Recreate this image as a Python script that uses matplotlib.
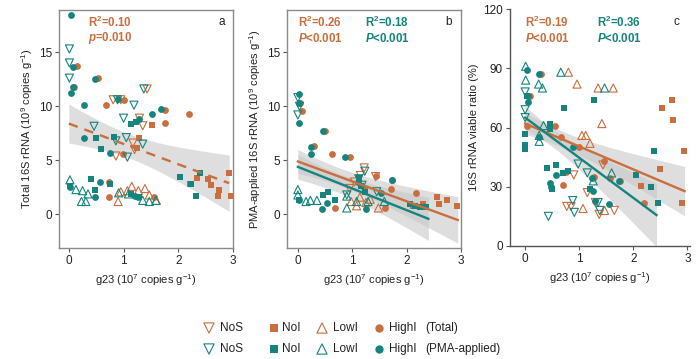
import numpy as np
import matplotlib
matplotlib.use("Agg")
import matplotlib.pyplot as plt

plt.rcParams['font.family'] = ['Liberation Sans', 'DejaVu Sans']
plt.rcParams['mathtext.fontset'] = 'custom'
plt.rcParams['mathtext.rm'] = 'Liberation Sans'
plt.rcParams['mathtext.it'] = 'Liberation Sans:italic:bold'
plt.rcParams['mathtext.bf'] = 'Liberation Sans:bold'
plt.rcParams['mathtext.default'] = 'regular'

ORANGE = '#C96E3E'
TEAL = '#15847E'

groups = ['NoS', 'NoI', 'LowI', 'HighI']

# ---------------- Panel a: Total 16S rRNA ----------------
a_tot_NoS_x = [1.43, 0.81, 0.95, 1.29, 1.35, 1.17, 0.86, 1.20]
a_tot_NoS_y = [11.6, 10.6, 10.6, 8.9, 8.2, 6.6, 5.4, 6.0]
a_tot_NoI_x = [1.52, 1.29, 1.24, 2.21, 2.34, 2.54, 2.59, 2.75, 2.73, 2.93, 2.96]
a_tot_NoI_y = [8.3, 7.1, 6.1, 2.8, 3.4, 3.3, 2.7, 2.3, 1.7, 3.8, 1.7]
a_tot_LowI_x = [0.90, 1.07, 1.15, 1.27, 1.39, 1.60, 1.47, 0.95]
a_tot_LowI_y = [1.2, 2.2, 2.6, 2.2, 2.4, 1.3, 1.8, 2.1]
a_tot_HighI_x = [0.14, 0.09, 0.53, 0.67, 1.00, 1.76, 2.19, 1.75, 0.74, 0.74, 0.99, 1.55]
a_tot_HighI_y = [13.7, 11.8, 12.6, 10.1, 10.6, 9.7, 9.3, 8.5, 3.0, 1.6, 5.6, 1.6]

a_pma_NoS_x = [0.01, 0.01, 0.01, 0.46, 0.89, 0.86, 1.00, 1.07, 1.19, 1.37, 1.35, 1.05]
a_pma_NoS_y = [15.3, 14.0, 12.6, 8.15, 10.6, 6.8, 8.9, 5.3, 10.1, 11.6, 6.5, 7.1]
a_pma_NoI_x = [0.02, 0.49, 0.58, 0.83, 0.41, 0.47, 0.75, 1.13, 1.22, 2.03, 2.24, 2.39, 2.32, 1.13, 1.29]
a_pma_NoI_y = [2.6, 7.07, 6.08, 7.16, 3.24, 2.3, 2.8, 8.33, 8.55, 3.45, 2.8, 3.8, 1.7, 1.9, 1.6]
a_pma_LowI_x = [0.02, 0.25, 0.31, 0.23, 0.13, 0.35, 0.91, 1.09, 1.35, 1.47, 1.59]
a_pma_LowI_y = [3.2, 2.2, 1.2, 1.2, 2.3, 1.9, 2.0, 1.9, 1.3, 1.2, 1.3]
a_pma_HighI_x = [0.04, 0.08, 0.07, 0.04, 0.28, 0.27, 0.48, 0.57, 0.47, 0.76, 0.89, 1.29, 1.52, 1.69, 1.27, 1.21, 0.02]
a_pma_HighI_y = [18.4, 13.6, 11.8, 11.2, 10.1, 7.07, 12.56, 2.99, 1.6, 5.68, 10.65, 8.86, 9.32, 9.72, 1.66, 1.7, 2.5]

# ---------------- Panel b: PMA-applied 16S rRNA ----------------
b_tot_NoS_x = [1.22, 1.04, 1.15, 1.43, 0.95]
b_tot_NoS_y = [4.3, 3.0, 3.6, 3.5, 2.4]
b_tot_NoI_x = [2.56, 2.75, 2.60, 2.93, 2.12, 1.23, 2.30]
b_tot_NoI_y = [1.6, 1.3, 1.0, 0.8, 0.8, 2.4, 1.0]
b_tot_LowI_x = [1.14, 1.33, 1.48, 1.08, 0.98, 1.25]
b_tot_LowI_y = [1.6, 1.4, 0.6, 0.8, 1.2, 1.1]
b_tot_HighI_x = [0.03, 0.07, 0.29, 0.49, 0.62, 0.95, 1.44, 1.74, 1.72, 2.18, 0.69, 1.60]
b_tot_HighI_y = [10.3, 9.6, 6.3, 7.7, 5.6, 5.3, 3.6, 3.2, 2.4, 2.0, 0.6, 0.6]

b_pma_NoS_x = [0.0, 0.03, 0.0, 1.12, 1.18, 1.23, 0.90, 1.45]
b_pma_NoS_y = [10.8, 10.0, 9.2, 3.3, 2.7, 4.0, 1.8, 2.1]
b_pma_NoI_x = [0.02, 0.47, 0.56, 0.69, 1.12, 1.17, 1.23, 2.06, 2.25, 2.35, 2.15]
b_pma_NoI_y = [1.3, 1.8, 2.1, 1.3, 3.4, 2.6, 2.1, 1.0, 0.7, 0.7, 0.8]
b_pma_LowI_x = [0.0, 0.0, 0.23, 0.35, 0.15, 0.90, 1.08, 1.29, 1.59, 0.90]
b_pma_LowI_y = [2.3, 1.8, 1.3, 1.3, 1.2, 1.7, 1.2, 1.2, 1.2, 0.6]
b_pma_HighI_x = [0.02, 0.02, 0.02, 0.25, 0.25, 0.47, 0.86, 0.02, 0.44, 0.54, 1.73, 1.53, 1.26, 1.10]
b_pma_HighI_y = [10.3, 8.5, 11.1, 6.26, 5.55, 7.67, 5.3, 1.3, 0.47, 1.1, 3.2, 2.0, 0.5, 3.0]

# ---------------- Panel c: 16S rRNA viable ratio ----------------
c_tot_NoS_x = [0.90, 0.77, 0.85, 1.15, 1.30, 1.37, 1.65, 1.44]
c_tot_NoS_y = [36, 20, 20, 27, 22, 16, 18, 41]
c_tot_NoI_x = [2.54, 2.71, 2.74, 2.94, 2.90, 2.50, 2.15]
c_tot_NoI_y = [70, 74, 64, 48, 22, 39, 30.5]
c_tot_LowI_x = [0.80, 0.96, 1.35, 1.63, 1.42, 1.05, 1.12, 1.20, 1.07, 1.47]
c_tot_LowI_y = [88, 82, 80, 80, 62, 56, 56, 52, 19, 18]
c_tot_HighI_x = [0.29, 0.09, 0.03, 0.55, 0.67, 0.99, 0.70, 0.76, 1.45, 1.57, 1.76, 2.19, 1.28]
c_tot_HighI_y = [87, 76, 61, 61, 55, 50, 31, 37.5, 43, 34.5, 33, 22, 35]

c_pma_NoS_x = [0.0, 0.0, 0.0, 0.43, 0.88, 0.91, 0.98, 1.15, 1.35, 1.38]
c_pma_NoS_y = [69, 65, 78, 15, 23, 17, 41.5, 37, 22, 18]
c_pma_NoI_x = [0.0, 0.0, 0.0, 0.04, 0.46, 0.46, 0.41, 0.58, 0.50, 0.70, 0.79, 0.71, 1.27, 1.20, 2.06, 2.39, 2.33, 2.46]
c_pma_NoI_y = [56.7, 51, 49, 76, 62, 59, 39.5, 41, 29, 37, 38, 70, 74, 29, 36, 48, 30, 22]
c_pma_LowI_x = [0.01, 0.01, 0.25, 0.32, 0.26, 0.26, 0.34, 0.66, 1.47, 1.26, 1.60]
c_pma_LowI_y = [91, 84, 82, 80, 56, 53, 61, 88, 80, 33, 37]
c_pma_HighI_x = [0.03, 0.25, 0.06, 0.05, 0.26, 0.46, 0.48, 0.58, 0.89, 1.24, 1.26, 1.30, 1.55, 1.74]
c_pma_HighI_y = [89, 87, 76, 73, 55, 31.7, 30, 36, 50, 34.6, 28, 23, 21.5, 33]

# Regression fits:
# (intercept, slope, x_start, x_end, half-width at start, half-width at end, x of narrowest band)
a_fit_tot = (8.4, -1.88, 0.0, 2.93, 1.8, 2.6, 1.1)
b_fit_tot = (4.9, -1.84, 0.0, 2.94, 1.1, 2.15, 0.8)
b_fit_pma = (4.4, -2.0, 0.0, 2.40, 1.15, 2.0, 0.7)
c_fit_tot = (62.0, -11.6, 0.0, 2.95, 5.5, 12.5, 0.7)
c_fit_pma = (65.0, -20.3, 0.0, 2.43, 6.0, 16.0, 0.5)

a_stats = [("R$^2$=0.10", "$\\mathit{p}$=0.010", ORANGE)]
b_stats = [("R$^2$=0.26", "$\\mathit{P}$<0.001", ORANGE), ("R$^2$=0.18", "$\\mathit{P}$<0.001", TEAL)]
c_stats = [("R$^2$=0.19", "$\\mathit{P}$<0.001", ORANGE), ("R$^2$=0.36", "$\\mathit{P}$<0.001", TEAL)]

markers = {'NoS': 'v', 'NoI': 's', 'LowI': '^', 'HighI': 'o'}
sizes = {'NoS': 34, 'NoI': 20, 'LowI': 34, 'HighI': 24}
hollow = {'NoS': True, 'NoI': False, 'LowI': True, 'HighI': False}

fig = plt.figure(figsize=(7.0, 3.59), dpi=100)
W, H = 700.0, 359.0

def add_ax(l, r, t, b):
    return fig.add_axes([l / W, 1 - b / H, (r - l) / W, (b - t) / H])

ax_a = add_ax(59, 233, 10, 248)
ax_b = add_ax(287, 461, 10, 248)
ax_c = add_ax(510, 690, 9, 246)

def scatter_panel(ax, prefix):
    g = globals()
    for src, col in (('tot', ORANGE), ('pma', TEAL)):
        for grp in groups:
            xs = g[f'{prefix}_{src}_{grp}_x']
            ys = g[f'{prefix}_{src}_{grp}_y']
            if hollow[grp]:
                ax.scatter(xs, ys, s=sizes[grp], marker=markers[grp], facecolors='none',
                           edgecolors=col, linewidths=0.8, zorder=3)
            else:
                ax.scatter(xs, ys, s=sizes[grp], marker=markers[grp], color=col,
                           linewidths=0, zorder=3)

def draw_fit(ax, fit, col, ls='-'):
    b0, b1, x0, x1, h0, h1, xc = fit
    k = (h1 ** 2 - h0 ** 2) / ((x1 - xc) ** 2 - (x0 - xc) ** 2)
    hm2 = h0 ** 2 - k * (x0 - xc) ** 2
    xx = np.linspace(x0, x1, 100)
    yy = b0 + b1 * xx
    hw = np.sqrt(hm2 + k * (xx - xc) ** 2)
    ax.fill_between(xx, yy - hw, yy + hw, color='#c8c8c8', alpha=0.6, lw=0, zorder=2)
    if ls == '--':
        ax.plot(xx, yy, color=col, lw=1.7, ls=(0, (4, 3)), zorder=4)
    else:
        ax.plot(xx, yy, color=col, lw=1.7, zorder=4)

scatter_panel(ax_a, 'a')
scatter_panel(ax_b, 'b')
scatter_panel(ax_c, 'c')

draw_fit(ax_a, a_fit_tot, ORANGE, '--')
draw_fit(ax_b, b_fit_tot, ORANGE)
draw_fit(ax_b, b_fit_pma, TEAL)
draw_fit(ax_c, c_fit_tot, ORANGE)
draw_fit(ax_c, c_fit_pma, TEAL)

xlabel = "g23 (10$^7$ copies g$^{-1}$)"
for ax in (ax_a, ax_b):
    ax.set_ylim(-3.1, 18.9)
    ax.set_yticks([0, 5, 10, 15])
    for sp in ax.spines.values():
        sp.set_color('#8a8a8a')
        sp.set_linewidth(1.0)
ax_a.set_xlim(-0.18, 3.0)
ax_b.set_xlim(-0.2, 3.0)
ax_c.set_xlim(-0.28, 3.05)
ax_c.set_ylim(0, 120)
ax_c.set_yticks([0, 30, 60, 90, 120])
ax_c.spines['top'].set_visible(False)
ax_c.spines['right'].set_visible(False)
for sp in ('left', 'bottom'):
    ax_c.spines[sp].set_color('#555555')
    ax_c.spines[sp].set_linewidth(1.0)

for ax in (ax_a, ax_b, ax_c):
    ax.set_xticks([0, 1, 2, 3])
    ax.tick_params(direction='out', length=3, width=0.8, colors='#555555',
                   labelcolor='#222222', labelsize=8.5, pad=2)
    ax.set_xlabel(xlabel, fontsize=8, color='#222222', labelpad=4)

ax_a.set_ylabel("Total 16S rRNA (10$^9$ copies g$^{-1}$)", fontsize=8, color='#222222', labelpad=3)
ax_b.set_ylabel("PMA-applied 16S rRNA (10$^9$ copies g$^{-1}$)", fontsize=8, color='#222222', labelpad=3)
ax_c.set_ylabel("16S rRNA viable ratio (%)", fontsize=8, color='#222222', labelpad=3)

def stats_text(ax, stats, xs):
    for (r2, p, col), xpix in zip(stats, xs):
        fig.text(xpix / W, 1 - 22 / H, r2, color=col, fontsize=8.3, fontweight='bold', va='center')
        fig.text(xpix / W, 1 - 38 / H, p, color=col, fontsize=8.3, fontweight='bold', va='center')

stats_text(ax_a, a_stats, [88])
stats_text(ax_b, b_stats, [298, 365])
stats_text(ax_c, c_stats, [525, 597])

for lab, xpix in (('a', 222), ('b', 449), ('c', 676)):
    fig.text(xpix / W, 1 - 22 / H, lab, fontsize=8.5, color='#222222', va='center', ha='center')

# ---------------- Legend ----------------
lax = fig.add_axes([0, 0, 1, 1], facecolor='none')
lax.set_xlim(0, W)
lax.set_ylim(H, 0)
lax.axis('off')
leg_rows = [(ORANGE, '(Total)', 328), (TEAL, '(PMA-applied)', 349)]
mk_x = {'NoS': 209, 'NoI': 274, 'LowI': 322, 'HighI': 379}
tx_x = {'NoS': 220, 'NoI': 282, 'LowI': 333, 'HighI': 389}
for col, tag, ypix in leg_rows:
    for grp in groups:
        if hollow[grp]:
            lax.scatter([mk_x[grp]], [ypix], s=sizes[grp] * 1.6, marker=markers[grp],
                        facecolors='none', edgecolors=col, linewidths=0.8)
        else:
            lax.scatter([mk_x[grp]], [ypix], s=sizes[grp] * 1.5, marker=markers[grp],
                        color=col, linewidths=0)
        lax.text(tx_x[grp], ypix, grp, fontsize=8.5, color='#222222', va='center')
    lax.text(425, ypix, tag, fontsize=8.5, color='#222222', va='center')

fig.savefig('out.png', dpi=100)
